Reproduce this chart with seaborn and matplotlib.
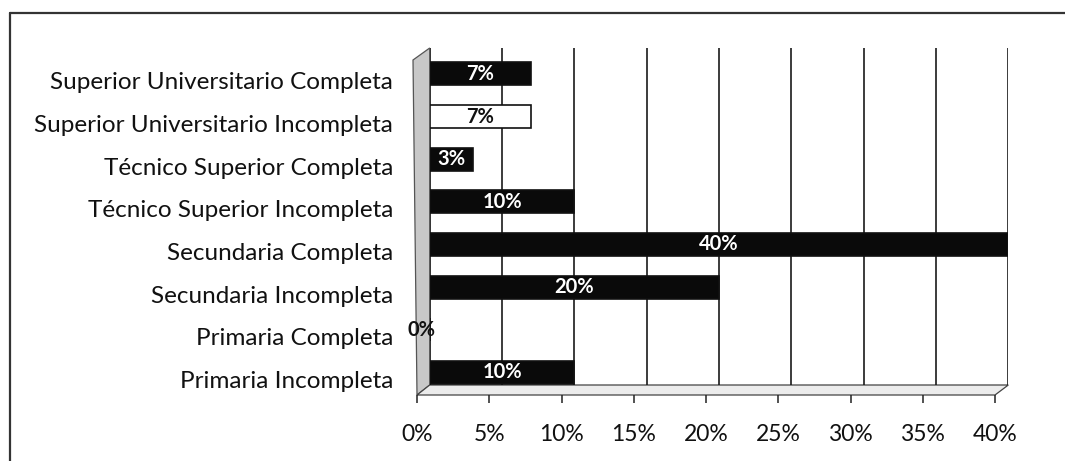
import matplotlib
matplotlib.use("Agg")
import matplotlib.pyplot as plt
import matplotlib.transforms as mtransforms
from matplotlib.patches import Polygon
from matplotlib.lines import Line2D
import seaborn as sns
import pandas as pd

categories = [
    "Superior Universitario Completa",
    "Superior Universitario Incompleta",
    "Técnico Superior Completa",
    "Técnico Superior Incompleta",
    "Secundaria Completa",
    "Secundaria Incompleta",
    "Primaria Completa",
    "Primaria Incompleta",
]
values = [7, 7, 3, 10, 40, 20, 0, 10]
bar_colors = ["#0a0a0a", "#ffffff", "#0a0a0a", "#0a0a0a", "#0a0a0a", "#0a0a0a", "#0a0a0a", "#0a0a0a"]
xticks = [0, 5, 10, 15, 20, 25, 30, 35, 40]
xticklabels = [f"{t}%" for t in xticks]

sns.set_theme(style="white")
plt.rcParams["font.family"] = ["Lato", "DejaVu Sans"]

df = pd.DataFrame({"cat": categories, "val": values})

W, H = 1065, 461
fig = plt.figure(figsize=(W / 100, H / 100), dpi=100)

def fx(px):
    return px / W

def fy(py):
    return 1 - py / H

# back plane (plot area)
BL, BR, BT, BB = 429.7, 1008.3, 48, 385
# front edge
FL, FR, FB = 417, 995, 395

# 3D-style wall and floor (decoration, drawn behind the axes)
fig.patches.append(Polygon([[fx(FL - 4), fy(BT + 12)], [fx(BL), fy(BT)], [fx(BL), fy(BB)], [fx(FL), fy(FB)]],
                           closed=True, transform=fig.transFigure, facecolor="#c8c8c8",
                           edgecolor="#555555", linewidth=0.9, zorder=0))
fig.patches.append(Polygon([[fx(FL), fy(FB)], [fx(BL), fy(BB)], [fx(BR), fy(BB)], [fx(FR), fy(FB)]],
                           closed=True, transform=fig.transFigure, facecolor="#ececec",
                           edgecolor="#444444", linewidth=0.9, zorder=0))
# outer frame: only its left and top sides fall inside the picture
fig.add_artist(Line2D([fx(10), fx(10)], [0, fy(13)], transform=fig.transFigure,
                      color="#333333", linewidth=1.6, zorder=0))
fig.add_artist(Line2D([fx(10), 1], [fy(13), fy(13)], transform=fig.transFigure,
                      color="#333333", linewidth=1.6, zorder=0))

ax = fig.add_axes([fx(BL), fy(BB), fx(BR) - fx(BL), fy(BT) - fy(BB)])
ax.set_zorder(2)
ax.patch.set_alpha(0)

sns.barplot(data=df, x="val", y="cat", hue="cat", palette=dict(zip(categories, bar_colors)),
            orient="h", width=0.54, edgecolor="#111111", linewidth=1.2, legend=False, ax=ax, zorder=3)

ax.set_xlim(0, 40)
ax.set_ylim(7.3, -0.61)
ax.set_xticks(xticks)
ax.set_xticklabels([])
ax.set_xlabel("")
ax.set_ylabel("")
ax.grid(axis="x", color="#1a1a1a", linewidth=1.2, zorder=0)
ax.grid(axis="y", visible=False)
for s in ["top", "right", "left", "bottom"]:
    ax.spines[s].set_visible(False)

ax.tick_params(axis="x", length=0)
ax.tick_params(axis="y", labelsize=17.5, colors="#111111", pad=26.5, length=0)
yoff = mtransforms.ScaledTranslation(0, -7 / 100, fig.dpi_scale_trans)
for lab in ax.get_yticklabels():
    lab.set_transform(lab.get_transform() + yoff)

for i, (v, c) in enumerate(zip(values, bar_colors)):
    tc = "white" if c != "#ffffff" else "#111111"
    if v == 0:
        ax.text(-0.55, i, "0%", ha="center", va="center", fontsize=14.5, color="#111111",
                fontweight="bold", zorder=5, clip_on=False)
    else:
        ax.text(v / 2, i, f"{v}%", ha="center", va="center", fontsize=14.5, color=tc,
                fontweight="bold", zorder=5)

# front axis carrying the tick marks and tick labels
ax2 = fig.add_axes([fx(FL), fy(FB), fx(FR) - fx(FL), 0.001])
ax2.set_zorder(3)
ax2.patch.set_alpha(0)
ax2.set_xlim(0, 40)
ax2.set_xticks(xticks)
ax2.set_xticklabels(xticklabels)
ax2.set_yticks([])
for s in ["top", "right", "left", "bottom"]:
    ax2.spines[s].set_visible(False)
ax2.tick_params(axis="x", direction="out", length=6, width=1.1, color="#222222",
                labelsize=16.5, labelcolor="#111111", pad=15, bottom=True)

fig.savefig("out.png", dpi=100)
